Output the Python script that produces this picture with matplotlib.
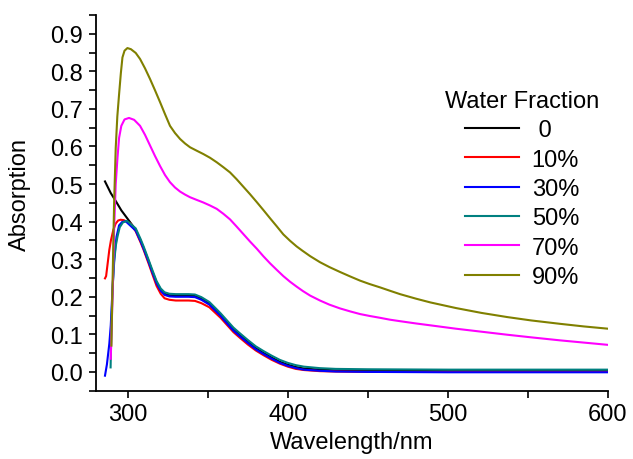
import numpy as np
import matplotlib.pyplot as plt

plt.rcParams['font.family'] = ['Liberation Sans', 'DejaVu Sans']

# water fraction series
labels = [' 0', '10%', '30%', '50%', '70%', '90%']
colors = ['#000000', '#ff0000', '#0000ff', '#008080', '#ff00ff', '#808000']

# common tail of the 0-50% curves (after the ~300 nm peak)
wl_tail = [302, 305, 308, 310, 313, 315.4, 318, 320.6, 323, 326, 330, 334, 338, 342,
           346, 351, 355, 358, 362, 366, 370, 375, 380, 385, 390, 395, 400, 405,
           410, 420, 430, 450, 500, 550, 600]
abs_tail = [0.397, 0.378, 0.350, 0.329, 0.295, 0.267, 0.238, 0.218, 0.208, 0.204, 0.203,
            0.203, 0.203, 0.202, 0.195, 0.182, 0.165, 0.152, 0.132, 0.113, 0.098, 0.080,
            0.063, 0.050, 0.038, 0.027, 0.019, 0.013, 0.009, 0.006, 0.004, 0.003, 0.002,
            0.002, 0.002]
red_tail = [0.394, 0.374, 0.345, 0.324, 0.289, 0.260, 0.229, 0.208, 0.196, 0.192, 0.190,
            0.190, 0.190, 0.189, 0.183, 0.172, 0.156, 0.144, 0.125, 0.106, 0.091, 0.073,
            0.057, 0.044, 0.032, 0.022, 0.014, 0.008, 0.005, 0.002, 0.001, 0.0, 0.0,
            0.0, 0.0]

wl_0 = [285.8, 289.4, 292.5, 296, 299.5] + wl_tail[1:]
abs_0 = [0.507, 0.476, 0.455, 0.430, 0.410] + abs_tail[1:]

wl_10 = [285.8, 286.5, 287.5, 288.5, 289.5, 291, 292.5, 294, 295.6, 297.5, 299.5] + wl_tail
abs_10 = [0.249, 0.255, 0.290, 0.325, 0.350, 0.378, 0.395, 0.403, 0.405, 0.404, 0.400] + red_tail

wl_30 = [285.8, 287, 288.5, 289.4, 290.5, 291.5, 293, 294.6, 296.5, 298.7] + wl_tail[1:]
abs_30 = [-0.010, 0.020, 0.075, 0.124, 0.220, 0.300, 0.360, 0.390, 0.399, 0.401] + \
         [0.376, 0.348, 0.327, 0.293, 0.265, 0.236, 0.216, 0.205, 0.201, 0.200, 0.200,
          0.200, 0.199, 0.192, 0.179, 0.162, 0.149, 0.129, 0.110, 0.095, 0.077, 0.060,
          0.047, 0.035, 0.024, 0.016, 0.010, 0.006, 0.003, 0.001, 0.0, -0.001, -0.001,
          -0.001]

wl_50 = [289.3, 289.8, 290.5, 291.5, 292.5, 293.6, 295, 297, 299.6] + wl_tail[1:]
abs_50 = [0.012, 0.120, 0.220, 0.290, 0.335, 0.360, 0.385, 0.398, 0.402] + \
         [0.382, 0.354, 0.333, 0.299, 0.271, 0.242, 0.222, 0.212, 0.208, 0.207, 0.207,
          0.207, 0.206, 0.199, 0.186, 0.169, 0.156, 0.137, 0.118, 0.103, 0.085, 0.068,
          0.055, 0.043, 0.032, 0.024, 0.018, 0.014, 0.010, 0.008, 0.007, 0.006, 0.006,
          0.006]

wl_70 = [289.4, 290.5, 291.5, 292.5, 293.6, 294.6, 296, 298, 300.8, 304, 307.7, 310.8,
         313.9, 317, 320.2, 323.3, 326.4, 329.5, 332.7, 335.8, 338.9, 343, 347.2, 351.4,
         355.6, 359.7, 363.9, 368, 372.2, 376.4, 380.6, 384.7, 388.9, 393, 397.2, 401.4,
         405.5, 409.5, 414, 420.1, 426, 432.6, 439, 445.1, 451, 457.6, 463.8, 470.1, 480,
         489, 505, 521, 537, 552, 570, 585, 600]
abs_70 = [0.035, 0.200, 0.380, 0.500, 0.570, 0.623, 0.655, 0.672, 0.676, 0.671, 0.655,
          0.631, 0.603, 0.575, 0.548, 0.524, 0.505, 0.491, 0.480, 0.472, 0.465, 0.458,
          0.451, 0.443, 0.434, 0.421, 0.406, 0.387, 0.367, 0.347, 0.328, 0.308, 0.289,
          0.272, 0.255, 0.240, 0.227, 0.215, 0.203, 0.190, 0.179, 0.169, 0.161, 0.154,
          0.149, 0.144, 0.139, 0.135, 0.129, 0.124, 0.115, 0.107, 0.099, 0.092, 0.084,
          0.078, 0.072]

wl_90 = [289.8, 290.8, 291.5, 292.5, 293.5, 294.6, 295.7, 296.7, 298, 299.8, 302, 305,
         307.7, 310.8, 313.9, 317, 320.2, 323.3, 326.4, 329.5, 332.7, 335.8, 338.9, 343,
         347.2, 351.4, 355.6, 359.7, 363.9, 368, 372.2, 376.4, 380.6, 384.7, 388.9, 393,
         397.2, 401.4, 405.5, 409, 414, 420.1, 426, 432.6, 439, 445.1, 451, 457.6, 463.8,
         470.1, 480, 489, 505, 521, 537, 552, 570, 585, 600]
abs_90 = [0.070, 0.300, 0.450, 0.596, 0.680, 0.739, 0.795, 0.837, 0.855, 0.862, 0.859,
          0.849, 0.833, 0.808, 0.780, 0.750, 0.718, 0.686, 0.655, 0.636, 0.620, 0.608,
          0.598, 0.589, 0.580, 0.570, 0.558, 0.545, 0.531, 0.513, 0.493, 0.473, 0.452,
          0.431, 0.409, 0.388, 0.366, 0.349, 0.334, 0.323, 0.308, 0.292, 0.279, 0.266,
          0.254, 0.243, 0.234, 0.225, 0.216, 0.207, 0.195, 0.185, 0.170, 0.157, 0.146,
          0.137, 0.128, 0.121, 0.115]

series = [(wl_0, abs_0), (wl_10, abs_10), (wl_30, abs_30),
          (wl_50, abs_50), (wl_70, abs_70), (wl_90, abs_90)]

fig = plt.figure(figsize=(6.33, 4.6), dpi=100)
ax = fig.add_axes([0.1512, 0.1485, 0.8093, 0.8167])

for (x, y), lab, c in zip(series, labels, colors):
    ax.plot(x, y, color=c, lw=1.5, label=lab)

ax.set_xlim(280, 600)
ax.set_ylim(-0.05, 0.95)
ax.set_xticks([300, 400, 500, 600])
ax.set_xticks([350, 450, 550], minor=True)
ax.set_yticks(np.arange(0, 0.95, 0.1))
ax.set_yticks(np.arange(-0.05, 0.96, 0.1), minor=True)
ax.yaxis.set_major_formatter(plt.FormatStrFormatter('%.1f'))

for s in ['top', 'right']:
    ax.spines[s].set_visible(False)
for s in ['left', 'bottom']:
    ax.spines[s].set_linewidth(1.3)
ax.tick_params(which='both', direction='out', length=5, width=1.2, labelsize=17, pad=4)

ax.set_xlabel('Wavelength/nm', fontsize=17)
ax.set_ylabel('Absorption', fontsize=17)
ax.yaxis.set_label_coords(-0.126, 0.526)

ax.legend(title='Water Fraction', loc='upper center',
          bbox_to_anchor=(522 / 633, 1 - 91 / 460), bbox_transform=fig.transFigure,
          frameon=False, fontsize=17, title_fontsize=17, handlelength=2.29,
          handletextpad=0.54, labelspacing=0.31, borderpad=0, borderaxespad=0)

fig.savefig('out.png', dpi=100)
